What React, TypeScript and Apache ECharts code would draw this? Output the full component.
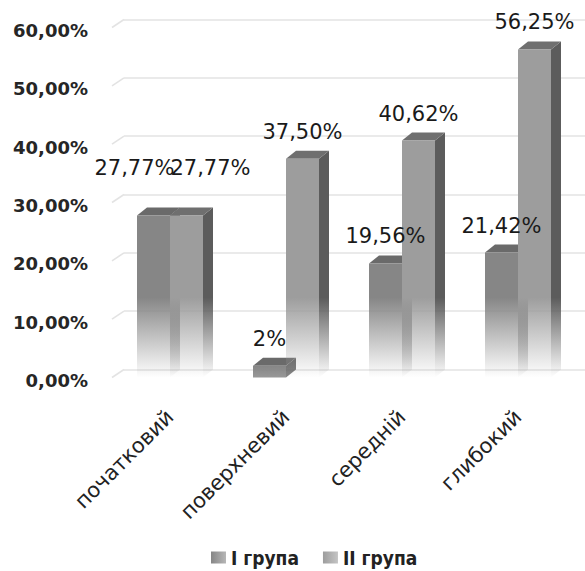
import React, { useEffect, useRef } from "react";
import * as echarts from "echarts";

const categories = ["початковий", "поверхневий", "середній", "глибокий"];
const seriesNames = ["I група", "II група"];
const group1 = [27.77, 2, 19.56, 21.42];
const group2 = [27.77, 37.5, 40.62, 56.25];
const yTicks = [0, 10, 20, 30, 40, 50, 60];

// style constants
const DX = 10; // bar depth x
const DY = 8; // bar depth y
const WALL_DX = 12;
const WALL_DY = 8;
const BAR_RATIO = 33 / 116;
const FADE = 80;
const FRONT = [
  [134, 134, 134],
  [157, 157, 157],
];
const SIDE = [
  [96, 96, 96],
  [92, 92, 92],
];
const TOPC = ["#6a6a6a", "#6f6f6f"];
const LABEL_SHIFT_FIRST = [
  [-19, -21],
  [24, -21],
];

const fmtLabel = (v: number) =>
  (Number.isInteger(v) ? String(v) : v.toFixed(2).replace(".", ",")) + "%";
const fmtAxis = (v: number) => v.toFixed(2).replace(".", ",") + "%";

const rgba = (c: number[], a: number) => `rgba(${c[0]},${c[1]},${c[2]},${a})`;

function fadeGrad(c: number[], h: number) {
  const start = Math.max(0, (h - FADE) / h);
  const endA = Math.max(0, 1 - h / FADE);
  return new echarts.graphic.LinearGradient(0, 0, 0, 1, [
    { offset: 0, color: rgba(c, 1) },
    { offset: start, color: rgba(c, 1) },
    { offset: 1, color: rgba(c, endA) },
  ]);
}

function makeRender(s: number) {
  return (params: any, api: any) => {
    const i = api.value(0);
    const v = api.value(1);
    const top = api.coord([i, v]);
    const base = api.coord([i, 0]);
    const band = api.size([1, 0])[0];
    const bw = band * BAR_RATIO;
    const x0 = top[0] - bw + s * bw;
    const h = base[1] - top[1];
    const shift = i === 0 ? LABEL_SHIFT_FIRST[s] : [0, 0];
    return {
      type: "group",
      children: [
        {
          type: "polygon",
          z2: 1,
          shape: {
            points: [
              [x0 + bw, top[1]],
              [x0 + bw + DX, top[1] - DY],
              [x0 + bw + DX, base[1] - DY],
              [x0 + bw, base[1]],
            ],
          },
          style: { fill: fadeGrad(SIDE[s], h + DY) },
        },
        {
          type: "polygon",
          z2: 1,
          shape: {
            points: [
              [x0, top[1]],
              [x0 + DX, top[1] - DY],
              [x0 + bw + DX, top[1] - DY],
              [x0 + bw, top[1]],
            ],
          },
          style: { fill: TOPC[s] },
        },
        {
          type: "rect",
          z2: 2,
          shape: { x: x0, y: top[1], width: bw, height: h },
          style: { fill: fadeGrad(FRONT[s], h) },
        },
        {
          type: "text",
          z2: 10,
          x: x0 + bw / 2 + shift[0],
          y: top[1] - 27 + shift[1],
          style: {
            text: fmtLabel(v),
            fill: "#1a1a1a",
            fontSize: 21,
            fontFamily: "DejaVu Sans",
            align: "center",
            verticalAlign: "middle",
          },
        },
      ],
    };
  };
}

export default function App() {
  const ref = useRef<HTMLDivElement>(null);
  useEffect(() => {
    document.body.style.margin = "0";
    if (!ref.current) return;
    const chart = echarts.init(ref.current, undefined, { renderer: "svg" });
    const legendGrad = (c: number[]) =>
      new echarts.graphic.LinearGradient(0, 0, 1, 0, [
        { offset: 0, color: rgba(c, 1) },
        { offset: 1, color: rgba(c, 0.6) },
      ]);
    chart.setOption({
      animation: false,
      grid: [
        { left: 112, right: 9, top: 27.5, bottom: 193.5 },
        { left: 112 + WALL_DX, right: 0, top: 27.5 - WALL_DY, bottom: 193.5 + WALL_DY },
        { left: 112, right: 9, top: 30.5, bottom: 190.5 },
      ],
      legend: {
        data: seriesNames,
        left: 211,
        top: 548,
        padding: 0,
        itemWidth: 15,
        itemHeight: 12,
        itemGap: 24,
        icon: "rect",
        textStyle: {
          fontFamily: "DejaVu Sans Condensed",
          fontWeight: "bold",
          fontSize: 19,
          color: "#222",
        },
      },
      xAxis: [
        {
          type: "category",
          gridIndex: 0,
          data: categories,
          axisLine: { show: false },
          axisTick: { show: false },
          axisLabel: {
            rotate: 45,
            margin: 36,
            interval: 0,
            fontFamily: "DejaVu Sans",
            fontSize: 21,
            color: "#222",
          },
        },
        { type: "category", gridIndex: 1, data: categories, show: false },
        { type: "category", gridIndex: 2, data: categories, show: false },
      ],
      yAxis: [
        {
          type: "value",
          gridIndex: 0,
          min: 0,
          max: 60,
          interval: 10,
          axisLine: { show: false },
          axisTick: { show: false },
          splitLine: { show: false },
          axisLabel: { show: false },
        },
        {
          type: "value",
          gridIndex: 1,
          min: 0,
          max: 60,
          interval: 10,
          axisLine: { show: false },
          axisTick: { show: false },
          axisLabel: { show: false },
          splitLine: { show: true, lineStyle: { color: "#e3e3e3", width: 1.6 } },
        },
        {
          type: "value",
          gridIndex: 2,
          min: 0,
          max: 60,
          interval: 10,
          axisLine: { show: false },
          axisTick: { show: false },
          splitLine: { show: false },
          axisLabel: {
            formatter: fmtAxis,
            margin: 24,
            fontFamily: "DejaVu Sans",
            fontWeight: "bold",
            fontSize: 18,
            color: "#262626",
          },
        },
      ],
      series: [
        {
          type: "custom",
          name: "wall",
          xAxisIndex: 0,
          yAxisIndex: 0,
          silent: true,
          z: 1,
          data: yTicks.map((t) => [0, t]),
          renderItem: (params: any, api: any) => {
            const p = api.coord([0, api.value(1)]);
            const cs = params.coordSys;
            return {
              type: "line",
              shape: { x1: cs.x, y1: p[1], x2: cs.x + WALL_DX, y2: p[1] - WALL_DY },
              style: { stroke: "#e3e3e3", lineWidth: 1.6 },
            };
          },
        },
        {
          type: "custom",
          name: seriesNames[0],
          xAxisIndex: 0,
          yAxisIndex: 0,
          itemStyle: { color: legendGrad(FRONT[0]) },
          data: group1.map((v, i) => [i, v]),
          renderItem: makeRender(0),
        },
        {
          type: "custom",
          name: seriesNames[1],
          xAxisIndex: 0,
          yAxisIndex: 0,
          itemStyle: { color: legendGrad(FRONT[1]) },
          data: group2.map((v, i) => [i, v]),
          renderItem: makeRender(1),
        },
      ],
    });
    return () => chart.dispose();
  }, []);
  return <div ref={ref} style={{ width: 585, height: 571 }} />;
}
